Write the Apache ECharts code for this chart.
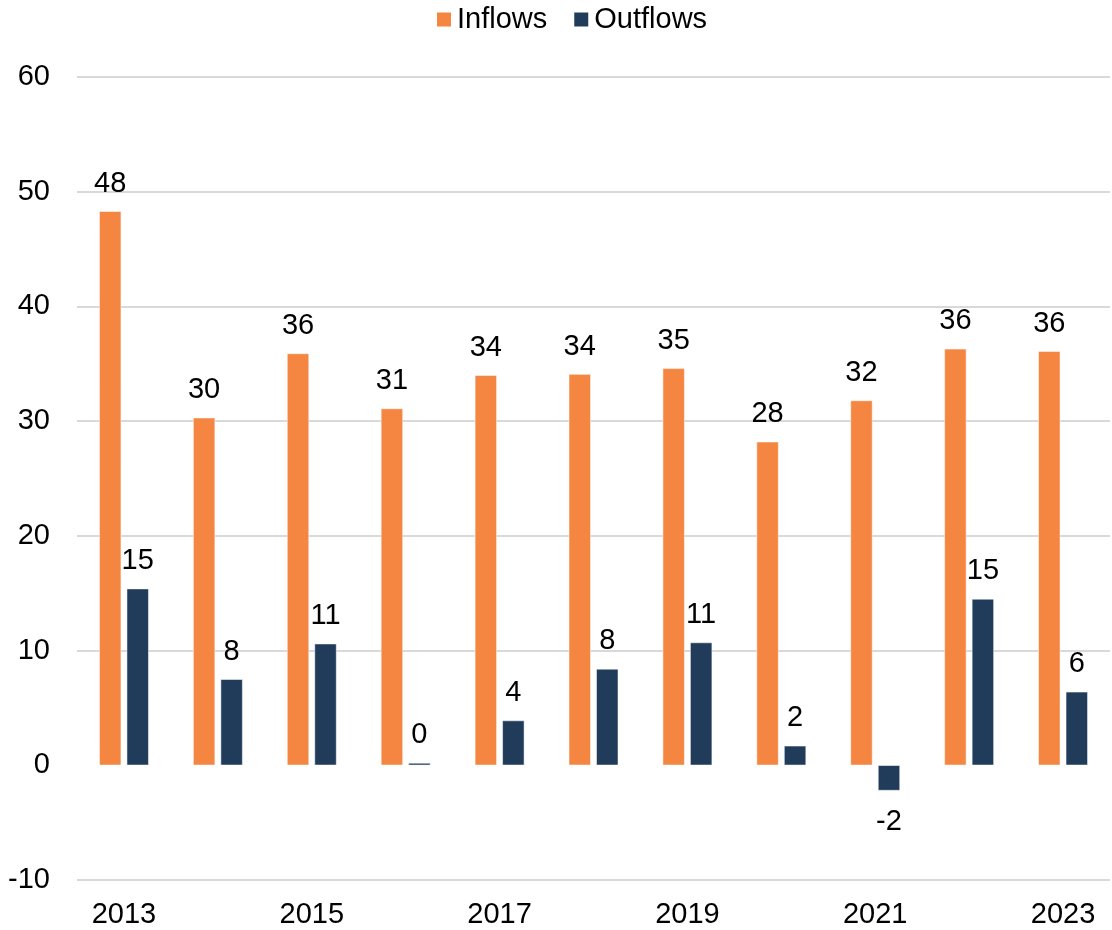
<!DOCTYPE html>
<html>
<head>
<meta charset="utf-8">
<script src="https://cdn.jsdelivr.net/npm/echarts@6/dist/echarts.min.js"></script>
<style>
  html, body { margin: 0; padding: 0; background: #fff; }
  #chart { width: 1112px; height: 930px; }
</style>
</head>
<body>
<div id="chart"></div>
<script>
// years on the x axis
const years = ['2013', '2014', '2015', '2016', '2017', '2018', '2019', '2020', '2021', '2022', '2023']
// values
const inflows = [48.3, 30.3, 35.9, 31.1, 34.0, 34.1, 34.6, 28.2, 31.8, 36.3, 36.1]
const outflows = [15.4, 7.5, 10.6, 0.2, 3.9, 8.4, 10.7, 1.7, -2.2, 14.5, 6.4]

const font = 'Liberation Sans, Arial, sans-serif'
const fs = 29

// negative bars get the label below the bar
function withLabels (arr) {
  return arr.map(v => ({
    value: v,
    label: v < 0 ? { position: 'bottom', distance: 17 } : { position: 'top', distance: 13 }
  }))
}

const labelStyle = {
  show: true,
  fontSize: fs,
  fontFamily: font,
  color: '#000',
  formatter: p => Math.round(p.value)
}

let chart = echarts.init(document.getElementById('chart'))
let option = {
  animation: false,
  textStyle: { fontFamily: font },
  legend: {
    top: 0,
    left: 430,
    itemWidth: 16,
    itemHeight: 16,
    itemGap: 25,
    icon: 'rect',
    textStyle: { fontSize: fs, color: '#000', fontFamily: font },
    data: ['Inflows', 'Outflows']
  },
  grid: { left: 77, right: 2, top: 77, bottom: 50, containLabel: false },
  xAxis: {
    type: 'category',
    data: years,
    axisLine: { show: false },
    axisTick: { show: false },
    axisLabel: { interval: 1, fontSize: fs, color: '#000', margin: 20, fontFamily: font }
  },
  yAxis: {
    type: 'value',
    min: -10,
    max: 60,
    interval: 10,
    axisLine: { show: false },
    axisTick: { show: false },
    axisLabel: { fontSize: fs, color: '#000', margin: 27, fontFamily: font },
    splitLine: {
      lineStyle: {
        width: 2,
        // no line at zero
        color: ['#d9d9d9', 'rgba(0,0,0,0)', '#d9d9d9', '#d9d9d9', '#d9d9d9', '#d9d9d9', '#d9d9d9', '#d9d9d9']
      }
    }
  },
  series: [
    {
      name: 'Inflows',
      type: 'bar',
      barWidth: 22,
      barGap: '25%',
      data: withLabels(inflows),
      itemStyle: { color: '#F58641', borderColor: '#fff', borderWidth: 0.5 },
      label: labelStyle
    },
    {
      name: 'Outflows',
      type: 'bar',
      barWidth: 22,
      data: withLabels(outflows),
      itemStyle: { color: '#203C5A', borderColor: '#fff', borderWidth: 0.5 },
      label: labelStyle
    }
  ]
}
chart.setOption(option)
</script>
</body>
</html>
